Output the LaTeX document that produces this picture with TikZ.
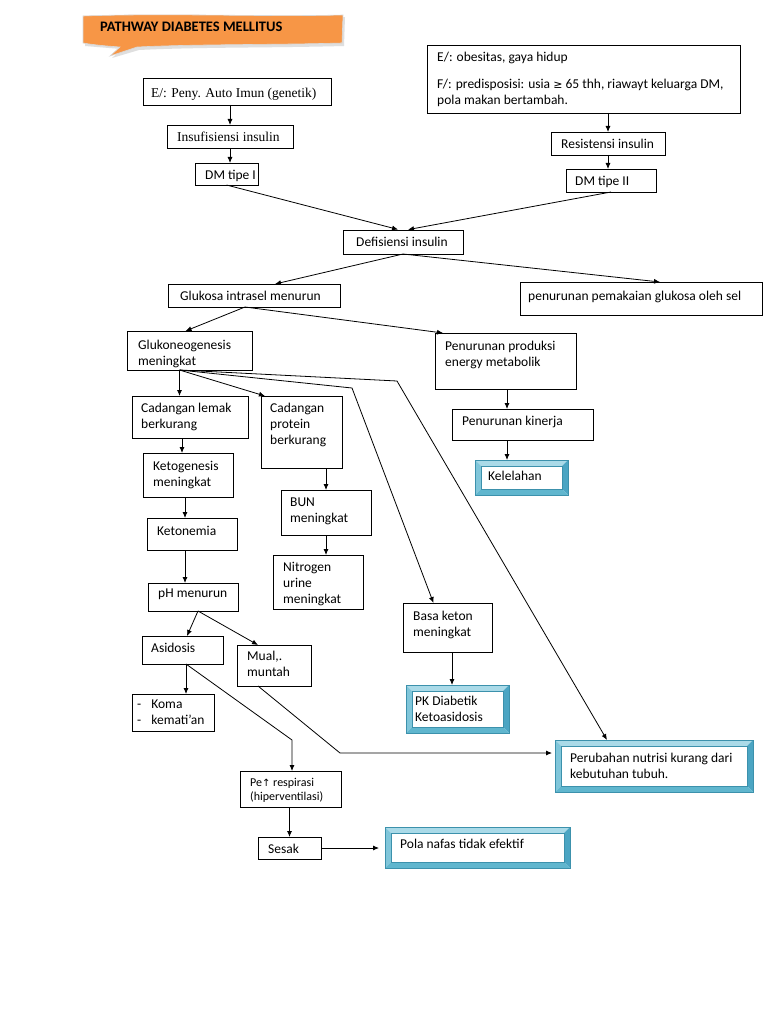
\documentclass[tikz,border=0pt]{standalone}
\usepackage{fontspec}
\setmainfont{Carlito}
\newfontfamily\serifface{Liberation Serif}
\newfontfamily\symface{DejaVu Sans}
\usetikzlibrary{arrows.meta}
\definecolor{orangefill}{RGB}{247,150,70}
\definecolor{bvT}{RGB}{170,218,232}
\definecolor{bvL}{RGB}{128,198,218}
\definecolor{bvR}{RGB}{75,165,195}
\definecolor{bvB}{RGB}{96,182,206}
\definecolor{bvline}{RGB}{60,145,172}
\newcommand\pbox[5]{\node[pb, minimum width={(#4-#2)*1pt}, minimum height={(#5-#3)*1pt}] (#1) at (#2,#3) {};}
\newcommand\bevbox[5]{%
 \node[anchor=north west, inner sep=0pt, outer sep=0pt, minimum width={(#4-#2)*1pt}, minimum height={(#5-#3)*1pt}] (#1) at (#2,#3) {};
 \fill[bvT] (#2,#3) -- (#4,#3) -- ({#4-6},{#3+6}) -- ({#2+6},{#3+6}) -- cycle;
 \fill[bvL] (#2,#3) -- ({#2+6},{#3+6}) -- ({#2+6},{#5-6}) -- (#2,#5) -- cycle;
 \fill[bvR] (#4,#3) -- (#4,#5) -- ({#4-6},{#5-6}) -- ({#4-6},{#3+6}) -- cycle;
 \fill[bvB] (#2,#5) -- (#4,#5) -- ({#4-6},{#5-6}) -- ({#2+6},{#5-6}) -- cycle;
 \draw[bvborder] (#2,#3) rectangle (#4,#5);
 \draw[bvborder] ({#2+6},{#3+6}) rectangle ({#4-6},{#5-6});
}
\begin{document}
\begin{tikzpicture}[x=1pt,y=-1pt,
  pb/.style={draw=black, line width=0.8pt, anchor=north west, inner sep=0pt, outer sep=0pt},
  txt/.style={anchor=north west, inner sep=0pt, yshift=-2pt, align=left, font=\fontsize{13.5}{16}\selectfont},
  stxt/.style={txt, font=\serifface\fontsize{13.5}{16}\selectfont},
  smtxt/.style={txt, font=\fontsize{12}{14}\selectfont},
  arr/.style={-{Latex[length=6pt,width=5pt]}, line width=0.8pt},
  bvborder/.style={draw=bvline, line width=0.6pt}]
\useasboundingbox (0,0) rectangle (768,1024);
\fill[white] (0,0) rectangle (768,1024);

% title callout
\fill[gray!25] (85,18) .. controls (170,15) and (260,19) .. (345,17) -- (344,46) .. controls (270,48) and (200,47) .. (139,50) -- (112,58) -- (122,49) .. controls (108,48) and (97,47) .. (85,46) -- cycle;
\fill[orangefill, draw=gray!30, line width=0.6pt] (83,16) .. controls (170,13) and (260,17) .. (343,15) -- (342,43) .. controls (270,45) and (200,44) .. (137,47) -- (110,56) -- (120,47) .. controls (106,46) and (95,45) .. (83,43) -- cycle;
\node[txt, font=\bfseries\fontsize{14.5}{17}\selectfont] (title) at (100,20) {PATHWAY DIABETES MELLITUS};

% plain boxes
\pbox{e1}{143}{78}{331}{105}
\node[stxt] (e1t) at (151,86) {E/: Peny. Auto Imun (genetik)};
\pbox{ins}{167}{125}{293}{148}
\node[stxt] (inst) at (177,130) {Insufisiensi insulin};
\pbox{dm1}{195}{163}{258}{185}
\node[txt] (dm1t) at (205,168) {DM tipe I};

\pbox{e2}{427}{45}{740}{113}
\node[txt] (e2a) at (437,50) {E/: obesitas, gaya hidup};
\node[txt] (e2b) at (437,77) {F/: predisposisi: usia {\symface\fontsize{11}{13}\selectfont ≥} 65 thh, riawayt keluarga DM,\\pola makan bertambah.};
\pbox{res}{551}{132}{665}{155}
\node[txt] (rest) at (561,137) {Resistensi insulin};
\pbox{dm2}{566}{169}{656}{192}
\node[txt] (dm2t) at (575,174) {DM tipe II};

\pbox{def}{343}{230}{463}{254}
\node[txt] (deft) at (356,235) {Defisiensi insulin};
\pbox{glu}{168}{284}{340}{307}
\node[txt] (glut) at (180,289) {Glukosa intrasel menurun};
\pbox{pem}{520}{282}{762}{315}
\node[txt] (pemt) at (528,289) {penurunan pemakaian glukosa oleh sel};

\pbox{gng}{127}{331}{252}{370}
\node[txt] (gngt) at (138,338) {Glukoneogenesis\\meningkat};
\pbox{prod}{435}{333}{576}{389}
\node[txt] (prodt) at (445,339) {Penurunan produksi\\energy metabolik};
\pbox{kin}{452}{409}{593}{440}
\node[txt] (kint) at (462,414) {Penurunan kinerja};
\bevbox{lel}{475}{460}{568}{495}
\node[txt] (lelt) at (488,469) {Kelelahan};

\pbox{lem}{132}{396}{248}{438}
\node[txt] (lemt) at (141,401) {Cadangan lemak\\berkurang};
\pbox{pro}{261}{396}{342}{468}
\node[txt] (prot) at (270,401) {Cadangan\\protein\\berkurang};
\pbox{ket}{143}{453}{233}{497}
\node[txt] (kett) at (153,459) {Ketogenesis\\meningkat};
\pbox{bun}{281}{490}{371}{535}
\node[txt] (bunt) at (290,496) {BUN\\meningkat};
\pbox{kem}{147}{518}{237}{550}
\node[txt] (kemt) at (157,524) {Ketonemia};
\pbox{nit}{273}{555}{363}{609}
\node[txt] (nitt) at (283,560) {Nitrogen\\urine\\meningkat};
\pbox{ph}{148}{583}{238}{611}
\node[txt] (pht) at (158,587) {pH menurun};
\pbox{asi}{142}{636}{223}{664}
\node[txt] (asit) at (151,641) {Asidosis};
\pbox{mua}{237}{645}{311}{686}
\node[txt] (muat) at (247,649) {Mual,.\\muntah};
\pbox{kom}{132}{694}{214}{731}
\node[txt] (komt) at (137,698) {-\hspace{10pt}Koma\\-\hspace{10pt}kemati'an};
\pbox{bas}{403}{603}{492}{652}
\node[txt] (bast) at (413,609) {Basa keton\\meningkat};
\bevbox{pk}{406}{685}{509}{733}
\node[txt] (pkt) at (415,694) {PK Diabetik\\Ketoasidosis};
\bevbox{nut}{555}{740}{753}{792}
\node[txt] (nutt) at (570,751) {Perubahan nutrisi kurang dari\\kebutuhan tubuh.};
\pbox{rsp}{240}{771}{341}{807}
\node[smtxt] (rspt) at (250,776) {Pe{\symface\fontsize{10}{12}\selectfont ↑} respirasi\\(hiperventilasi)};
\pbox{ses}{258}{837}{321}{859}
\node[txt] (sest) at (268,842) {Sesak};
\bevbox{pol}{385}{827}{570}{868}
\node[txt] (polt) at (400,837) {Pola nafas tidak efektif};

% connectors
\draw[arr] (ins.north |- e1.south) -- (ins.north);
\draw[arr] (ins.south) -- (ins.south |- dm1.north);
\draw[arr] (res.north |- e2.south) -- (res.north);
\draw[arr] (res.south) -- (res.south |- dm2.north);
\draw[arr, shorten >=2pt] (dm1.south) -- ([xshift=-3]def.north);
\draw[arr, shorten >=2pt] (dm2.south) -- ([xshift=3]def.north);
\draw[arr] (def.south) -- ([xshift=21]glu.north);
\draw[arr] (def.south) -- ([xshift=19]pem.north);
\coordinate (gl) at ([xshift=-9]glu.south);
\draw[arr] (gl) -- ([xshift=-4]gng.north);
\draw[arr] (gl) -- ([xshift=8]prod.north west);
\coordinate (pk0) at ([xshift=1.5]prod.south);
\draw[arr] (pk0) -- (pk0 |- kin.north);
\draw[arr] (pk0 |- kin.south) -- (pk0 |- lel.north);
\coordinate (gsrc) at ([xshift=-10]gng.south);
\coordinate (bk1) at (352,388);
\coordinate (bk2) at (397,381);
\draw[arr] (gsrc) -- (gsrc |- lem.north);
\draw[arr] (gsrc) -- ([xshift=4]pro.north west);
\draw[arr] (gsrc) -- (bk1) -- ([xshift=-14]bas.north);
\draw[arr] (gsrc) -- (bk2) -- ([xshift=-47]nut.north);
\coordinate (lk) at ([xshift=-6]ket.north);
\draw[arr] (lk |- lem.south) -- (lk);
\coordinate (kk) at ([xshift=-7]kem.north);
\draw[arr] (kk |- ket.south) -- (kk);
\draw[arr] (kk |- kem.south) -- (kk |- ph.north);
\coordinate (ps) at ([xshift=5]ph.south);
\draw[arr] (ps) -- ([xshift=4.5]asi.north);
\draw[arr] (ps) -- ([xshift=-16]mua.north);
\coordinate (as) at ([xshift=3.5]asi.south);
\draw[arr] (as) -- (as |- kom.north);
\coordinate (bk3) at (292,740);
\draw[arr] (as) -- (bk3) -- (bk3 |- rsp.north);
\coordinate (ms) at ([xshift=-16]mua.south);
\coordinate (bk4) at (340,753);
\draw[arr, shorten >=3pt] (ms) -- (bk4) -- (bk4 -| nut.west);
\draw[arr] (bun.north |- pro.south) -- (bun.north);
\draw[arr] (bun.south) -- (bun.south |- nit.north);
\coordinate (bs) at ([xshift=4.5]bas.south);
\draw[arr] (bs) -- (bs |- pk.north);
\draw[arr] (ses.north |- rsp.south) -- (ses.north);
\draw[arr, shorten >=6pt] (ses.east) -- (ses.east -| pol.west);
\end{tikzpicture}
\end{document}
